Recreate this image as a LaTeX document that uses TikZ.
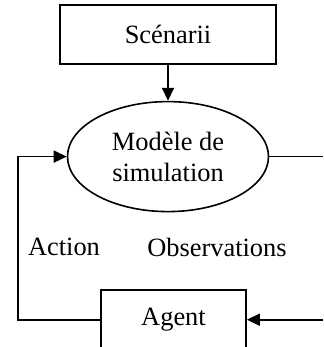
\documentclass[tikz,border=0pt]{standalone}
\usepackage{fontspec}
\setmainfont{Liberation Serif}
\usetikzlibrary{positioning, arrows.meta, shapes.geometric, calc}

\begin{document}
\begin{tikzpicture}[
  every node/.style={align=center, font=\fontsize{13.2}{15.5}\selectfont},
  box/.style={rectangle, draw=black, line width=0.8pt, inner sep=0pt},
  model/.style={ellipse, draw=black, line width=0.8pt, inner sep=0pt,
                minimum width=100.5pt, minimum height=55pt},
  arrow/.style={-{Triangle[length=6.5pt, width=6pt]}, line width=0.8pt},
  link/.style={line width=0.8pt}
]
\useasboundingbox (0,0) rectangle (161.5pt,-173.5pt);

% ---- Scenarios and model ----
\node (scen)  [box, minimum width=108pt, minimum height=29.5pt] at (84pt,-17.25pt) {Scénarii};
\node (model) [model, below=18pt of scen] {Modèle de\\simulation};

% ---- Agent ----
\node (agent) [box, minimum width=72.5pt, minimum height=29.5pt,
               below=38.5pt of model, xshift=2.75pt] {Agent};

% ---- Labels ----
\node (act) at (32pt,-123.5pt)    {Action};
\node (obs) at (108.5pt,-123.5pt) {Observations};

% ---- Arrows ----
\coordinate (lft) at ($(model.west)+(-24.5pt,0)$);
\coordinate (rgt) at (161.5pt,0);
\draw [arrow] (scen) -- (model);
\draw [arrow] (agent.west) -| (lft) -- (model.west);
\draw [link]  (model.east) -- (model.east -| rgt);
\draw [arrow] (agent.east -| rgt) -- (agent.east);
\end{tikzpicture}
\end{document}
